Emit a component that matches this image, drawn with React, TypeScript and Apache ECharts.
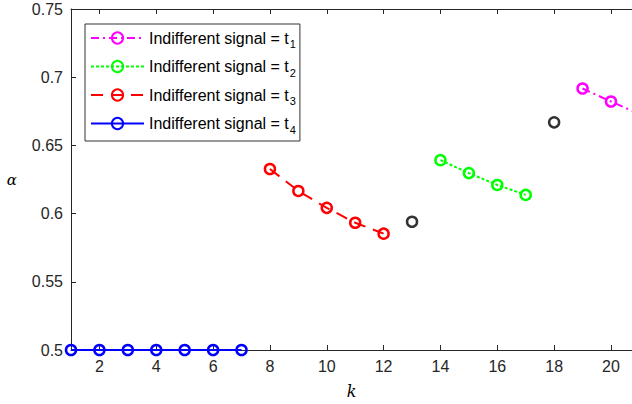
import React, { useEffect, useRef } from "react";
import * as echarts from "echarts";

const kBlue = [1, 2, 3, 4, 5, 6, 7];
const vBlue = [0.5, 0.5, 0.5, 0.5, 0.5, 0.5, 0.5];
const kRed = [8, 9, 10, 11, 12];
const vRed = [0.6327, 0.6166, 0.6042, 0.5933, 0.5853];
const kGreen = [14, 15, 16, 17];
const vGreen = [0.6392, 0.6297, 0.621, 0.6137];
const kMagenta = [19, 20, 21];
const vMagenta = [0.6917, 0.6822, 0.673];
const kBlack = [13, 18];
const vBlack = [0.594, 0.6669];
const xTicks = [2, 4, 6, 8, 10, 12, 14, 16, 18, 20];
const legendNames = [
  "Indifferent signal = t{s|1}",
  "Indifferent signal = t{s|2}",
  "Indifferent signal = t{s|3}",
  "Indifferent signal = t{s|4}",
];

const zip = (a: number[], b: number[]) => a.map((x, i) => [x, b[i]]);

export default function App() {
  const ref = useRef<HTMLDivElement>(null);
  useEffect(() => {
    document.body.style.margin = "0";
    const chart = echarts.init(ref.current!, null, { renderer: "svg" });
    const axisColor = "#262626";
    const font = "Liberation Sans, Arial, Helvetica";
    const mk = (name: string, data: number[][], color: string, type: any) => ({
      name,
      type: "line",
      data,
      symbol: "circle",
      symbolSize: 10,
      showSymbol: true,
      itemStyle: { color: "rgba(255,255,255,0)", borderColor: color, borderWidth: 2.5 },
      lineStyle: { color, width: 2, type },
      emphasis: { disabled: true },
      z: 3,
    });
    chart.setOption({
      animation: false,
      grid: { left: 71, right: 0, top: 9, bottom: 52, containLabel: false },
      legend: {
        orient: "vertical",
        left: 85,
        top: 24,
        itemWidth: 53,
        itemHeight: 14,
        itemGap: 9,
        padding: [6, 4, 6, 5],
        borderColor: "#333",
        borderWidth: 1,
        backgroundColor: "#fff",
        data: legendNames,
        selectedMode: false,
        textStyle: {
          fontFamily: font,
          fontSize: 16,
          color: "#000",
          rich: {
            s: { fontSize: 11, verticalAlign: "bottom", padding: [12, 0, 0, 1], fontFamily: font },
          },
        },
      },
      xAxis: [
        {
          type: "value",
          min: 1,
          max: 20.74,
          name: "k",
          nameLocation: "middle",
          nameGap: 33,
          nameTextStyle: { fontFamily: "DejaVu Serif", fontStyle: "italic", fontSize: 16, color: "#000" },
          axisLine: { show: true, lineStyle: { color: axisColor } },
          axisTick: { show: true, inside: true, length: 5, customValues: xTicks, lineStyle: { color: axisColor } },
          axisLabel: { customValues: xTicks, margin: 8, fontFamily: font, fontSize: 16, color: axisColor },
          splitLine: { show: false },
        },
        {
          type: "value",
          position: "top",
          min: 1,
          max: 20.74,
          axisLine: { show: true, lineStyle: { color: axisColor } },
          axisTick: { show: true, inside: true, length: 5, customValues: xTicks, lineStyle: { color: axisColor } },
          axisLabel: { show: false },
          splitLine: { show: false },
        },
      ],
      yAxis: [
        {
          type: "value",
          min: 0.5,
          max: 0.75,
          interval: 0.05,
          name: "α",
          nameLocation: "middle",
          nameRotate: 0,
          nameGap: 54,
          nameTextStyle: { fontFamily: "DejaVu Serif", fontStyle: "italic", fontSize: 15, color: "#000" },
          axisLine: { show: true, lineStyle: { color: axisColor } },
          axisTick: { show: true, inside: true, length: 5, lineStyle: { color: axisColor } },
          axisLabel: { margin: 8, fontFamily: font, fontSize: 16, color: axisColor },
          splitLine: { show: false },
        },
      ],
      series: [
        mk(legendNames[0], zip(kMagenta, vMagenta), "#ff00ff", [8, 4, 2, 4]),
        mk(legendNames[1], zip(kGreen, vGreen), "#00ff00", [3, 2]),
        mk(legendNames[2], zip(kRed, vRed), "#ff0000", [12, 8]),
        mk(legendNames[3], zip(kBlue, vBlue), "#0000ff", "solid"),
        {
          name: "black",
          type: "scatter",
          data: zip(kBlack, vBlack),
          symbol: "circle",
          symbolSize: 10,
          itemStyle: { color: "rgba(255,255,255,0)", borderColor: "#000", borderWidth: 2.5 },
          emphasis: { disabled: true },
          z: 3,
        },
      ],
    });
    return () => chart.dispose();
  }, []);
  return <div ref={ref} style={{ width: 632, height: 404 }} />;
}
